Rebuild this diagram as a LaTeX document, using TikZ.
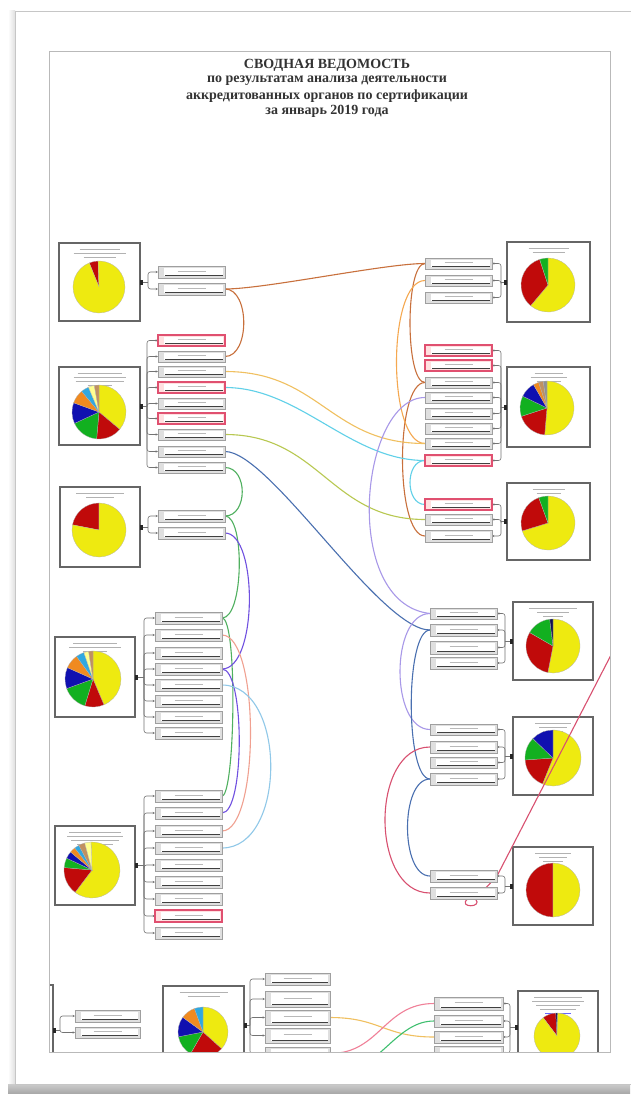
\documentclass[tikz,border=0pt]{standalone}
\usepackage{fontspec}
\setmainfont{Liberation Serif}
\usetikzlibrary{arrows.meta,calc}
\definecolor{pyel}{HTML}{EEEA10}
\definecolor{pred}{HTML}{C00A0A}
\definecolor{pgrn}{HTML}{12B020}
\definecolor{pblu}{HTML}{1010B0}
\definecolor{pora}{HTML}{F08A20}
\definecolor{plbl}{HTML}{30A8E0}
\definecolor{ppal}{HTML}{FFFF90}
\definecolor{ptan}{HTML}{C09060}
\definecolor{pnav}{HTML}{101050}
\definecolor{pgry}{HTML}{909090}
\definecolor{csie}{HTML}{C8703C}
\definecolor{cora}{HTML}{F5A850}
\definecolor{cyel}{HTML}{F0C060}
\definecolor{ccya}{HTML}{60D0E8}
\definecolor{colv}{HTML}{B8C850}
\definecolor{cstb}{HTML}{4A70B0}
\definecolor{cgrn}{HTML}{50B060}
\definecolor{cpur}{HTML}{7050E0}
\definecolor{csal}{HTML}{F0A090}
\definecolor{clbl}{HTML}{90C8E8}
\definecolor{clav}{HTML}{A898E8}
\definecolor{ccri}{HTML}{D85070}
\definecolor{cpnk}{HTML}{F08098}
\definecolor{cgrb}{HTML}{40C070}
\definecolor{rbord}{HTML}{E05070}
\tikzset{
  lbox/.style={rectangle, draw=gray!75, fill=gray!25, line width=1pt, inner sep=0pt, outer sep=0pt},
  rbox/.style={rectangle, draw=rbord, fill=red!12, line width=1.3pt, inner sep=0pt, outer sep=0pt},
  pbox/.style={rectangle, draw=black!60, fill=white, line width=1.4pt, inner sep=0pt, outer sep=0pt},
  brk/.style={draw=black!55, line width=0.6pt},
  conn/.style={line width=1.1pt, line cap=round},
  ttl/.style={font=\bfseries\fontsize{14}{16}\selectfont, text=black!80, inner sep=0pt}
}
\newcommand\lbx[6][lbox]{%
  \node[#1, anchor=north west, minimum width={#5-#3}, minimum height={#6-#4}] (#2) at (#3,#4) {};
  \fill[white] ({#3+6},{#4+2}) rectangle ({#5-2},{#6-2.2});
  \draw[black!75, line width=1pt] ({#3+7},{#6-2.4}) -- ({#5-2},{#6-2.4});
  \draw[gray!55, line width=1.1pt] ({(#3+#5)/2-14},{(#4+#6)/2-0.7}) -- ({(#3+#5)/2+14},{(#4+#6)/2-0.7});
}
\newcommand\pbx[5]{%
  \node[pbox, anchor=north west, minimum width={#4-#2}, minimum height={#5-#3}] (#1) at (#2,#3) {};
}
\newcommand\ptl[3]{\draw[gray!60, line width=0.8pt] ({#1-#3},#2) -- ({#1+#3},#2);}
\newcommand\pslice[3]{\fill[#3, draw=black!30, line width=0.25pt] (0,0) -- (#1:\PR) arc[start angle=#1, end angle=#2, radius=\PR] -- cycle;}
\newcommand\piechart[4]{\begin{scope}[shift={(#1,#2)}, yscale=-1]\def\PR{#3}#4\end{scope}}
\newcommand\brL[3]{%
  \coordinate (bk) at ($(#1.east)+(#2,0)$);
  \draw[brk] (#1.east) -- (bk);
  \foreach \b in {#3}{\draw[brk, rounded corners=2.5, -{Stealth[length=2.4pt,width=2.2pt]}] (bk) |- (\b.west);}
  \fill[black!85] ($(#1.east)+(0,-2.5)$) rectangle ++(3,5);
}
\newcommand\brR[3]{%
  \coordinate (bk) at ($(#1.west)+(-#2,0)$);
  \draw[brk] (#1.west) -- (bk);
  \foreach \b in {#3}{\draw[brk, rounded corners=2.5, -{Stealth[length=2.4pt,width=2.2pt]}] (bk) |- (\b.east);}
  \fill[black!85] ($(#1.west)+(-3,-2.5)$) rectangle ++(3,5);
}
\begin{document}
\begin{tikzpicture}[x=1pt,y=-1pt]
\useasboundingbox (0,0) rectangle (630,1094);
\fill[white] (0,0) rectangle (630,1094);
\shade[left color=white, right color=gray!25] (8,11) rectangle (15,1084);
\shade[top color=gray!40, bottom color=gray!70] (8,1084) rectangle (630,1094);
\draw[gray!45, fill=white, line width=0.8pt] (15,11) rectangle (645,1084);

\begin{scope}
\clip (49,51) rectangle (610,1052);
% ---------- pie boxes ----------
\pbx{PL1}{59}{243}{140}{321}
\pbx{PL2}{59}{367}{140}{445}
\pbx{PL3}{60}{487}{140}{567}
\pbx{PL4}{55}{637}{135}{717}
\pbx{PL5}{55}{826}{135}{905}
\pbx{PR1}{507}{242}{590}{322}
\pbx{PR2}{507}{367}{590}{447}
\pbx{PR3}{507}{483}{590}{560}
\pbx{PR4}{513}{602}{593}{680}
\pbx{PR5}{513}{717}{593}{795}
\pbx{PR6}{513}{847}{593}{925}
\pbx{PB0}{10}{985}{53}{1075}
\pbx{PB1}{163}{986}{244}{1064}
\pbx{PB2}{518}{991}{598}{1064}
% pie titles (illegible small print)
\ptl{99.5}{249}{20}\ptl{99.5}{253}{26}\ptl{99.5}{257}{16}
\ptl{99.5}{373}{22}\ptl{99.5}{377}{26}\ptl{99.5}{381}{24}\ptl{99.5}{385}{12}
\ptl{100}{493}{24}\ptl{100}{497}{14}
\ptl{95}{643}{22}\ptl{95}{647}{26}\ptl{95}{651}{12}
\ptl{95}{832}{26}\ptl{95}{836}{28}\ptl{95}{840}{24}\ptl{95}{844}{18}
\ptl{548.5}{248}{20}\ptl{548.5}{252}{16}
\ptl{548.5}{373}{14}\ptl{548.5}{377}{18}\ptl{548.5}{381}{12}
\ptl{548.5}{489}{16}\ptl{548.5}{493}{12}
\ptl{553}{608}{24}\ptl{553}{612}{16}\ptl{553}{616}{10}
\ptl{553}{723}{18}\ptl{553}{727}{14}\ptl{553}{731}{10}
\ptl{553}{853}{18}\ptl{553}{857}{14}\ptl{553}{861}{10}
\ptl{203.5}{992}{24}\ptl{203.5}{996}{16}
\ptl{558}{997}{24}\ptl{558}{1001}{26}\ptl{558}{1005}{22}\ptl{558}{1009}{18}
\draw[blue!60, line width=0.8pt] (545,1013) -- (571,1013);
% ---------- pies ----------
\piechart{99}{287}{26}{\pslice{92}{112}{pred}\pslice{112}{452}{pyel}}
\piechart{99}{412}{27}{\pslice{-40}{90}{pyel}\pslice{-95}{-40}{pred}\pslice{-155}{-95}{pgrn}\pslice{160}{205}{pblu}\pslice{130}{160}{pora}\pslice{113}{130}{plbl}\pslice{100}{113}{ppal}\pslice{90}{100}{ptan}}
\piechart{99}{530}{27}{\pslice{90}{169}{pred}\pslice{169}{450}{pyel}}
\piechart{93}{679}{28}{\pslice{-67}{90}{pyel}\pslice{-107}{-67}{pred}\pslice{-160}{-107}{pgrn}\pslice{156}{200}{pblu}\pslice{126}{156}{pora}\pslice{109}{126}{plbl}\pslice{99}{109}{ppal}\pslice{90}{99}{ptan}}
\piechart{92}{870}{28}{\pslice{-127}{92}{pyel}\pslice{175}{233}{pred}\pslice{155}{175}{pgrn}\pslice{140}{155}{pblu}\pslice{128}{140}{pora}\pslice{118}{128}{plbl}\pslice{105}{118}{ptan}\pslice{92}{105}{ppal}}
\piechart{548}{285}{27}{\pslice{-130}{90}{pyel}\pslice{108}{230}{pred}\pslice{90}{108}{pgrn}}
\piechart{547}{408}{27}{\pslice{-95}{90}{pyel}\pslice{198}{265}{pred}\pslice{154}{198}{pgrn}\pslice{120}{154}{pblu}\pslice{108}{120}{pora}\pslice{98}{108}{ptan}\pslice{90}{98}{pgry}}
\piechart{548}{523}{27}{\pslice{-163}{90}{pyel}\pslice{110}{197}{pred}\pslice{90}{110}{pgrn}}
\piechart{553}{646}{27}{\pslice{-101}{90}{pyel}\pslice{150}{259}{pred}\pslice{97}{150}{pgrn}\pslice{90}{97}{pnav}}
\piechart{553}{758}{28}{\pslice{-112}{90}{pyel}\pslice{184}{248}{pred}\pslice{136}{184}{pgrn}\pslice{90}{136}{pblu}}
\piechart{553}{890}{27}{\pslice{90}{270}{pred}\pslice{-90}{90}{pyel}}
\piechart{203}{1032}{25}{\pslice{-42}{90}{pyel}\pslice{-120}{-42}{pred}\pslice{191}{240}{pgrn}\pslice{144}{191}{pblu}\pslice{110}{144}{pora}\pslice{90}{110}{plbl}}
\piechart{557}{1036}{23}{\pslice{93}{127}{pred}\pslice{88}{93}{pnav}\pslice{127}{448}{pyel}}

% ---------- list boxes: invisible first pass so connectors can use names ----------
\begin{scope}[opacity=0]
\lbx{L1a}{158}{266}{225}{278}\lbx{L1b}{158}{283}{225}{295}
\lbx{L2a}{158}{335}{225}{346}\lbx{L2b}{158}{351}{225}{362}\lbx{L2c}{158}{366}{225}{377}
\lbx{L2d}{158}{382}{225}{393}\lbx{L2e}{158}{398}{225}{409}\lbx{L2f}{158}{413}{225}{424}
\lbx{L2g}{158}{429}{225}{440}\lbx{L2h}{158}{446}{225}{457}\lbx{L2i}{158}{462}{225}{473}
\lbx{L3a}{158}{510}{225}{522}\lbx{L3b}{158}{527}{225}{539}
\lbx{L4a}{155}{612}{222}{624}\lbx{L4b}{155}{629}{222}{641}\lbx{L4c}{155}{647}{222}{659}
\lbx{L4d}{155}{663}{222}{675}\lbx{L4e}{155}{679}{222}{691}\lbx{L4f}{155}{695}{222}{707}
\lbx{L4g}{155}{711}{222}{723}\lbx{L4h}{155}{727}{222}{739}
\lbx{L5a}{155}{790}{222}{802}\lbx{L5b}{155}{807}{222}{819}\lbx{L5c}{155}{825}{222}{837}
\lbx{L5d}{155}{842}{222}{854}\lbx{L5e}{155}{859}{222}{871}\lbx{L5f}{155}{876}{222}{888}
\lbx{L5g}{155}{893}{222}{905}\lbx{L5h}{155}{910}{222}{922}\lbx{L5i}{155}{927}{222}{939}
\lbx{R1a}{425}{258}{492}{269}\lbx{R1b}{425}{275}{492}{286}\lbx{R1c}{425}{292}{492}{303}
\lbx{R2a}{425}{345}{492}{356}\lbx{R2b}{425}{360}{492}{371}\lbx{R2c}{425}{377}{492}{388}
\lbx{R2d}{425}{392}{492}{403}\lbx{R2e}{425}{408}{492}{419}\lbx{R2f}{425}{423}{492}{434}
\lbx{R2g}{425}{438}{492}{449}\lbx{R2h}{425}{455}{492}{466}
\lbx{R3a}{425}{499}{492}{510}\lbx{R3b}{425}{514}{492}{525}\lbx{R3c}{425}{530}{492}{542}
\lbx{R4a}{430}{608}{497}{619}\lbx{R4b}{430}{624}{497}{636}\lbx{R4c}{430}{641}{497}{654}\lbx{R4d}{430}{657}{497}{669}
\lbx{R5a}{430}{724}{497}{735}\lbx{R5b}{430}{741}{497}{753}\lbx{R5c}{430}{757}{497}{768}\lbx{R5d}{430}{773}{497}{785}
\lbx{R6a}{430}{870}{497}{882}\lbx{R6b}{430}{887}{497}{899}
\lbx{BLa}{75}{1010}{140}{1022}\lbx{BLb}{75}{1027}{140}{1038}
\lbx{BMa}{265}{973}{330}{985}\lbx{BMb}{265}{991}{330}{1007}\lbx{BMc}{265}{1010}{330}{1025}
\lbx{BMd}{265}{1028}{330}{1043}\lbx{BMe}{265}{1047}{330}{1060}
\lbx{BRa}{434}{997}{503}{1010}\lbx{BRb}{434}{1015}{503}{1027}\lbx{BRc}{434}{1031}{503}{1043}\lbx{BRd}{434}{1046}{503}{1060}
\end{scope}

% ---------- connectors ----------
\coordinate (offR) at (660,560);
\coordinate (gst) at (352,1068);
\draw[conn, csie] (L1b.east) .. controls +(40,0) and +(-40,0) .. (R1a.west);
\draw[conn, csie] (L1b.east) .. controls +(25,0) and +(25,0) .. (L2b.east);
\draw[conn, csie] (R1a.west) .. controls +(-20,0) and +(-20,0) .. (R2c.west);
\draw[conn, csie] (R2c.west) .. controls +(-30,0) and +(-30,0) .. (R3c.west);
\draw[conn, cora] (R1b.west) .. controls +(-38,0) and +(-38,0) .. (R2g.west);
\draw[conn, cyel] (L2c.east) .. controls +(95,0) and +(-95,0) .. (R2g.west);
\draw[conn, ccya] (L2d.east) .. controls +(75,0) and +(-75,0) .. (R2h.west);
\draw[conn, ccya] (R2h.west) .. controls +(-20,0) and +(-20,0) .. (R3a.west);
\draw[conn, colv] (L2g.east) .. controls +(95,0) and +(-95,0) .. (R3b.west);
\draw[conn, cstb] (L2h.east) .. controls +(45,0) and +(-50,0) .. (R4b.west);
\draw[conn, cgrn] (L2i.east) .. controls +(23,0) and +(23,0) .. (L3a.east);
\draw[conn, cgrn] (L3a.east) .. controls +(20,0) and +(22,0) .. (L4a.east);
\draw[conn, cgrn] (L4a.east) .. controls +(16,0) and +(13,0) .. (L5a.east);
\draw[conn, cpur] (L3b.east) .. controls +(33,0) and +(36,0) .. (L4d.east);
\draw[conn, cpur] (L4d.east) .. controls +(23,0) and +(23,0) .. (L5b.east);
\draw[conn, csal] (L4b.east) .. controls +(38,0) and +(38,0) .. (L5c.east);
\draw[conn, clbl] (L4e.east) .. controls +(65,0) and +(65,0) .. (L5d.east);
\draw[conn, clav] (R2d.west) .. controls +(-65,0) and +(-90,-10) .. (R4a.west);
\draw[conn, clav] (R4a.west) .. controls +(-40,0) and +(-40,0) .. (R5a.west);
\draw[conn, cstb] (R4b.west) .. controls +(-25,0) and +(-25,0) .. (R5d.west);
\draw[conn, cstb] (R5d.west) .. controls +(-30,0) and +(-30,0) .. (R6a.west);
\draw[conn, ccri] (R5b.west) .. controls +(-60,0) and +(-60,0) .. (R6b.west);
\draw[conn, ccri] ($(R6b.south)+(4,0)$) .. controls +(-10,9) and +(8,9) .. ($(R6b.south)+(12,0)$) -- (R6a.east) -- (offR);
\draw[conn, cyel] (BMc.east) .. controls +(50,0) and +(-50,0) .. (BRc.west);
\draw[conn, cpnk] (BMe.east) .. controls +(50,0) and +(-50,0) .. (BRa.west);
\draw[conn, cgrb] (gst) .. controls +(30,-5) and +(-35,0) .. (BRb.west);

% ---------- brackets ----------
\brL{PL1}{8}{L1a,L1b}
\brL{PL2}{7}{L2a,L2b,L2c,L2d,L2e,L2f,L2g,L2h,L2i}
\brL{PL3}{8}{L3a,L3b}
\brL{PL4}{9}{L4a,L4b,L4c,L4d,L4e,L4f,L4g,L4h}
\brL{PL5}{9}{L5a,L5b,L5c,L5d,L5e,L5f,L5g,L5h,L5i}
\brR{PR1}{6}{R1a,R1b,R1c}
\brR{PR2}{6}{R2a,R2b,R2c,R2d,R2e,R2f,R2g,R2h}
\brR{PR3}{6}{R3a,R3b,R3c}
\brR{PR4}{8}{R4a,R4b,R4c,R4d}
\brR{PR5}{8}{R5a,R5b,R5c,R5d}
\brR{PR6}{8}{R6a,R6b}
\brL{PB0}{7}{BLa,BLb}
\brL{PB1}{6}{BMa,BMb,BMc,BMd,BMe}
\brR{PB2}{8}{BRa,BRb,BRc,BRd}

% ---------- list boxes (visible) ----------
\lbx{L1a}{158}{266}{225}{278}\lbx{L1b}{158}{283}{225}{295}
\lbx[rbox]{L2a}{158}{335}{225}{346}\lbx{L2b}{158}{351}{225}{362}\lbx{L2c}{158}{366}{225}{377}
\lbx[rbox]{L2d}{158}{382}{225}{393}\lbx{L2e}{158}{398}{225}{409}\lbx[rbox]{L2f}{158}{413}{225}{424}
\lbx{L2g}{158}{429}{225}{440}\lbx{L2h}{158}{446}{225}{457}\lbx{L2i}{158}{462}{225}{473}
\lbx{L3a}{158}{510}{225}{522}\lbx{L3b}{158}{527}{225}{539}
\lbx{L4a}{155}{612}{222}{624}\lbx{L4b}{155}{629}{222}{641}\lbx{L4c}{155}{647}{222}{659}
\lbx{L4d}{155}{663}{222}{675}\lbx{L4e}{155}{679}{222}{691}\lbx{L4f}{155}{695}{222}{707}
\lbx{L4g}{155}{711}{222}{723}\lbx{L4h}{155}{727}{222}{739}
\lbx{L5a}{155}{790}{222}{802}\lbx{L5b}{155}{807}{222}{819}\lbx{L5c}{155}{825}{222}{837}
\lbx{L5d}{155}{842}{222}{854}\lbx{L5e}{155}{859}{222}{871}\lbx{L5f}{155}{876}{222}{888}
\lbx{L5g}{155}{893}{222}{905}\lbx[rbox]{L5h}{155}{910}{222}{922}\lbx{L5i}{155}{927}{222}{939}
\lbx{R1a}{425}{258}{492}{269}\lbx{R1b}{425}{275}{492}{286}\lbx{R1c}{425}{292}{492}{303}
\lbx[rbox]{R2a}{425}{345}{492}{356}\lbx[rbox]{R2b}{425}{360}{492}{371}\lbx{R2c}{425}{377}{492}{388}
\lbx{R2d}{425}{392}{492}{403}\lbx{R2e}{425}{408}{492}{419}\lbx{R2f}{425}{423}{492}{434}
\lbx{R2g}{425}{438}{492}{449}\lbx[rbox]{R2h}{425}{455}{492}{466}
\lbx[rbox]{R3a}{425}{499}{492}{510}\lbx{R3b}{425}{514}{492}{525}\lbx{R3c}{425}{530}{492}{542}
\lbx{R4a}{430}{608}{497}{619}\lbx{R4b}{430}{624}{497}{636}\lbx{R4c}{430}{641}{497}{654}\lbx{R4d}{430}{657}{497}{669}
\lbx{R5a}{430}{724}{497}{735}\lbx{R5b}{430}{741}{497}{753}\lbx{R5c}{430}{757}{497}{768}\lbx{R5d}{430}{773}{497}{785}
\lbx{R6a}{430}{870}{497}{882}\lbx{R6b}{430}{887}{497}{899}
\lbx{BLa}{75}{1010}{140}{1022}\lbx{BLb}{75}{1027}{140}{1038}
\lbx{BMa}{265}{973}{330}{985}\lbx{BMb}{265}{991}{330}{1007}\lbx{BMc}{265}{1010}{330}{1025}
\lbx{BMd}{265}{1028}{330}{1043}\lbx{BMe}{265}{1047}{330}{1060}
\lbx{BRa}{434}{997}{503}{1010}\lbx{BRb}{434}{1015}{503}{1027}\lbx{BRc}{434}{1031}{503}{1043}\lbx{BRd}{434}{1046}{503}{1060}
\end{scope}

\draw[gray!55, line width=0.8pt] (49,51) rectangle (610,1052);
\node[ttl] (t1) at (327,65.5) {СВОДНАЯ ВЕДОМОСТЬ};
\node[ttl] (t2) at (327,81) {по результатам анализа деятельности};
\node[ttl] (t3) at (327,96) {аккредитованных органов по сертификации};
\node[ttl] (t4) at (327,111) {за январь 2019 года};
\end{tikzpicture}
\end{document}
